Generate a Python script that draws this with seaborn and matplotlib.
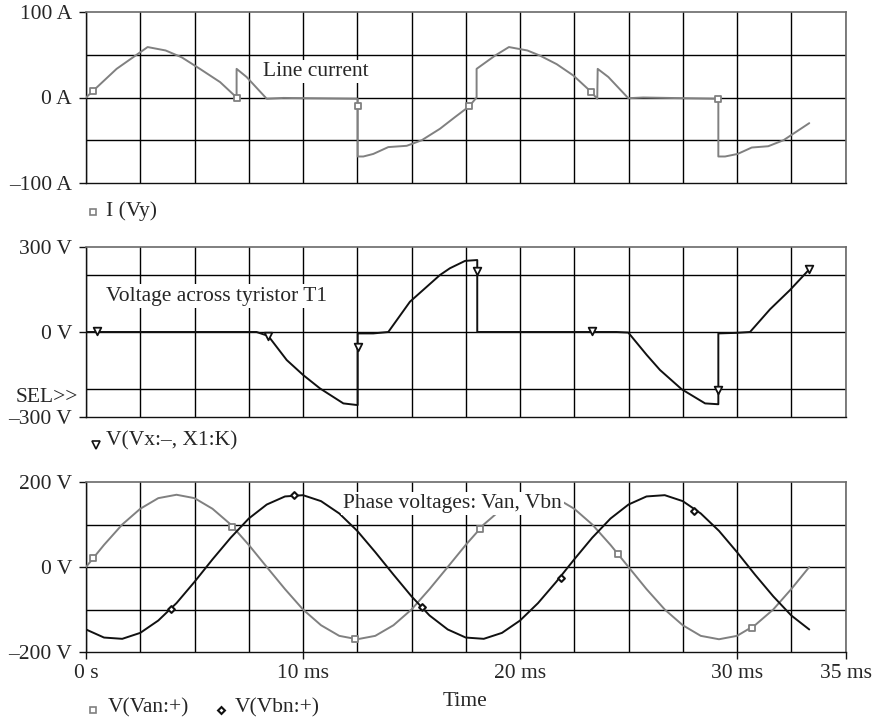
import matplotlib
matplotlib.use("Agg")
import matplotlib.pyplot as plt
import seaborn as sns
import numpy as np
from matplotlib.lines import Line2D

# ---------------- data ----------------
# Line current I(Vy) [ms, A]
t_cur = [0, 1.41, 2.84, 3.67, 4.41, 5.25, 6.18, 6.94, 6.94, 7.4, 8.33, 9.1, 12.52, 12.52,
         12.78, 13.24, 13.93, 14.78, 15.47, 16.31, 17.0, 17.65, 18.0, 18.0, 18.85, 19.49,
         20.34, 20.92, 21.69, 22.46, 23.26, 23.56, 23.58, 24.07, 24.99, 25.68, 29.14, 29.14,
         29.45, 30.03, 30.68, 31.44, 32.14, 33.33]
i_cur = [0, 33.5, 59, 55, 47, 33.5, 18, 0, 33.5, 24, -1.5, -0.5, -1.5, -69,
         -69, -66, -58, -56.5, -50, -36.6, -23, -10.5, 0, 33.5, 49, 59,
         55, 49, 39, 25.7, 7, -1.5, 33.5, 24, -0.8, 0, -1.5, -69,
         -69, -66, -58.5, -57, -50, -30]
t_cur_mk = [0.34, 6.94, 12.52, 17.65, 23.26, 29.14]
i_cur_mk = [8, 0, -10, -10.5, 7, -1.5]

# Voltage across thyristor T1 [ms, V]
t_vt = [0, 6.94, 7.86, 8.4, 9.25, 10.01, 10.78, 11.86, 12.52, 12.52, 13.24, 13.93, 14.93,
        16.31, 16.77, 17.47, 18.03, 18.03, 24.45, 24.99, 25.84, 26.45, 27.45, 28.53, 29.14,
        29.14, 29.98, 30.6, 31.52, 32.44, 33.33]
v_vt = [0, 0, 0, -14, -99, -152, -199, -252, -258, -5, -5, 0, 107,
        201, 225, 251, 254, 0, 0, -2, -81, -134, -202, -252, -255,
        -5, -3, 0, 80, 148, 221]
t_vt_mk = [0.52, 8.4, 12.52, 18.03, 23.3, 29.14, 33.33]
v_vt_mk = [3, -14, -52, 216, 3, -205, 221]

# Phase voltages [ms, V]
t_ph = [0, 0.83, 1.67, 2.5, 3.33, 4.17, 5, 5.83, 6.67, 7.5, 8.33, 9.17, 10, 10.83, 11.67,
        12.5, 13.33, 14.17, 15, 15.83, 16.67, 17.5, 18.33, 19.17, 20, 20.83, 21.67, 22.5,
        23.33, 24.17, 25, 25.83, 26.67, 27.5, 28.33, 29.17, 30, 30.83, 31.67, 32.5, 33.33]
v_an = [0, 52, 100, 137, 162, 170, 162, 137, 100, 52, 0, -52, -100, -137, -162,
        -170, -162, -137, -100, -52, 0, 52, 100, 137, 162, 170, 162, 137,
        100, 52, 0, -52, -100, -137, -162, -170, -162, -137, -100, -52, 0]
v_bn = [-147, -166, -169, -155, -126, -85, -35, 18, 69, 114, 147, 166, 169, 155, 126,
        85, 35, -18, -69, -114, -147, -166, -169, -155, -126, -85, -35, 18,
        69, 114, 147, 166, 169, 155, 126, 85, 35, -18, -69, -114, -147]
t_an_mk = [0.34, 6.71, 12.4, 18.16, 24.53, 30.68]
v_an_mk = [22, 95, -170, 90, 30, -143]
t_bn_mk = [3.92, 9.58, 15.47, 21.87, 28.03]
v_bn_mk = [-99, 169, -93, -27, 132]

x_ticks = [0, 10, 20, 30, 35]
x_tick_labels = ["0 s", "10 ms", "20 ms", "30 ms", "35 ms"]

# ---------------- style ----------------
sns.set_theme(style="white")
plt.rcParams["font.family"] = ["Liberation Serif", "DejaVu Serif"]
plt.rcParams["font.size"] = 15.5

GRAY = "#808080"
BLACK = "#111111"
FS = 15.5

W, H = 878, 722
fig = plt.figure(figsize=(W / 100, H / 100), dpi=100)

left = 86 / W
width = (845.5 - 86) / W


def make_ax(top_px, bot_px):
    return fig.add_axes([left, 1 - bot_px / H, width, (bot_px - top_px) / H])


ax1 = make_ax(12, 183)
ax2 = make_ax(247, 417)
ax3 = make_ax(482, 652)

grid_x = np.arange(0, 35.01, 2.5)


def style_ax(ax, ylim, grid_y, yticks, ylabels, show_x=False):
    ax.set_xlim(0, 35)
    ax.set_ylim(*ylim)
    for gx in grid_x:
        ax.axvline(gx, color="black", lw=1.0, zorder=1)
    for gy in grid_y:
        ax.axhline(gy, color="black", lw=1.0, zorder=1)
    ax.set_yticks(yticks)
    ax.set_yticklabels(ylabels, fontsize=FS)
    ax.tick_params(axis="y", left=True, direction="out", length=5, width=1,
                   color=BLACK, pad=5)
    if show_x:
        ax.set_xticks(x_ticks)
        ax.set_xticklabels(x_tick_labels, fontsize=FS)
        ax.tick_params(axis="x", bottom=True, direction="out", length=5, width=1,
                       color=BLACK, pad=4)
    else:
        ax.set_xticks([])
    for side in ["left", "bottom"]:
        ax.spines[side].set_color(BLACK)
        ax.spines[side].set_linewidth(1.0)
    for side in ["top", "right"]:
        ax.spines[side].set_color("#6a6a6a")
        ax.spines[side].set_linewidth(1.2)
    ax.set_xlabel("")
    ax.set_ylabel("")


bbox = dict(facecolor="white", edgecolor="none", pad=1.5)

# ---- top panel: line current ----
style_ax(ax1, (-100, 100), [-50, 0, 50], [-100, 0, 100], ["–100 A", "0 A", "100 A"])
sns.lineplot(x=t_cur, y=i_cur, ax=ax1, color=GRAY, lw=1.4, estimator=None, sort=False, zorder=3)
sns.scatterplot(x=t_cur_mk, y=i_cur_mk, ax=ax1, marker="s", s=22, color="white",
                edgecolor=GRAY, linewidth=1.3, zorder=4)
ax1.text(10.58, 30.4, "Line current", fontsize=FS, ha="center", va="center",
         bbox=bbox, zorder=5)

# ---- middle panel: thyristor voltage ----
style_ax(ax2, (-300, 300), [-200, 0, 200], [-300, 0, 300], ["–300 V", "0 V", "300 V"])
sns.lineplot(x=t_vt, y=v_vt, ax=ax2, color=BLACK, lw=1.4, estimator=None, sort=False, zorder=3)
sns.scatterplot(x=t_vt_mk, y=v_vt_mk, ax=ax2, marker="v", s=30, color="white",
                edgecolor=BLACK, linewidth=1.3, zorder=4)
ax2.text(6.0, 127, "Voltage across tyristor T1", fontsize=FS, ha="center", va="center",
         bbox=bbox, zorder=5)

# ---- bottom panel: phase voltages ----
style_ax(ax3, (-200, 200), [-100, 0, 100], [-200, 0, 200], ["–200 V", "0 V", "200 V"],
         show_x=True)
sns.lineplot(x=t_ph, y=v_an, ax=ax3, color=GRAY, lw=1.4, estimator=None, sort=False, zorder=3)
sns.lineplot(x=t_ph, y=v_bn, ax=ax3, color=BLACK, lw=1.4, estimator=None, sort=False, zorder=3)
sns.scatterplot(x=t_an_mk, y=v_an_mk, ax=ax3, marker="s", s=22, color="white",
                edgecolor=GRAY, linewidth=1.3, zorder=4)
sns.scatterplot(x=t_bn_mk, y=v_bn_mk, ax=ax3, marker="D", s=12, color="white",
                edgecolor=BLACK, linewidth=1.5, zorder=4)
ax3.text(16.9, 150, "Phase voltages: Van, Vbn", fontsize=FS, ha="center", va="center",
         bbox=bbox, zorder=5)


# ---- legend-like labels under each panel ----
def fig_marker(xp, yp, marker, ms, ec, mew=1.2):
    fig.add_artist(Line2D([xp / W], [1 - yp / H], marker=marker, markersize=ms,
                          markerfacecolor="white", markeredgecolor=ec,
                          markeredgewidth=mew, linestyle="none",
                          transform=fig.transFigure))


def fig_text(xp, yp, s, ha="left"):
    fig.text(xp / W, 1 - yp / H, s, fontsize=FS, ha=ha, va="center")


fig_marker(93.5, 212, "s", 4.5, GRAY)
fig_text(106, 211, "I (Vy)")

fig_marker(96.5, 445, "v", 5.5, BLACK)
fig_text(106, 441, "V(Vx:–, X1:K)")

fig_text(78, 397, "SEL>>", ha="right")

fig_marker(93.5, 710, "s", 4.5, GRAY)
fig_text(108, 708, "V(Van:+)")
fig_marker(221, 710, "D", 3.5, BLACK, mew=1.5)
fig_text(235, 708, "V(Vbn:+)")
fig_text(465, 702, "Time", ha="center")

fig.savefig("out.png", dpi=100)
